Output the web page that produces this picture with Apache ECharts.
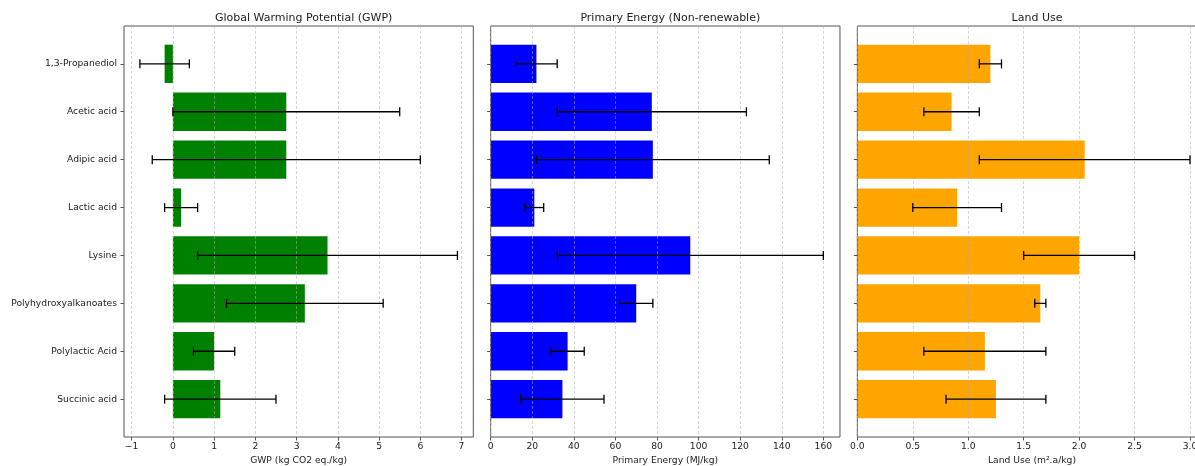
<!DOCTYPE html>
<html>
<head>
<meta charset="utf-8">
<script src="https://cdn.jsdelivr.net/npm/echarts@6/dist/echarts.min.js"></script>
<style>
  html, body { margin: 0; padding: 0; background: #fff; overflow: hidden; }
  /* the drawing is wider than the window; the third panel runs past the right edge */
  #chart { width: 1220px; height: 466px; }
</style>
</head>
<body>
<div id="chart"></div>
<script>
// Bio-based chemicals: impact indicators with uncertainty ranges
const categories = ['1,3-Propanediol', 'Acetic acid', 'Adipic acid', 'Lactic acid',
                    'Lysine', 'Polyhydroxyalkanoates', 'Polylactic Acid', 'Succinic acid'];

// Global warming potential (kg CO2 eq./kg) and its spread
const gwp    = [-0.2, 2.75, 2.75, 0.2, 3.75, 3.2, 1.0, 1.15];
const gwpErr = [0.6, 2.75, 3.25, 0.4, 3.15, 1.9, 0.5, 1.35];

// Non-renewable primary energy (MJ/kg) and its spread
const energy    = [22, 77.5, 78, 21, 96, 70, 37, 34.5];
const energyErr = [10, 45.5, 56, 4.5, 64, 8, 8, 20];

// Land use (m².a/kg) and its spread
const land    = [1.2, 0.85, 2.05, 0.9, 2.0, 1.65, 1.15, 1.25];
const landErr = [0.1, 0.25, 0.95, 0.4, 0.5, 0.05, 0.55, 0.45];

// Tick values and their labels for each x axis
const gwpTicks = [-1, 0, 1, 2, 3, 4, 5, 6, 7];
const gwpTickLabels = ['\u22121', '0', '1', '2', '3', '4', '5', '6', '7'];
const energyTicks = [0, 20, 40, 60, 80, 100, 120, 140, 160];
const energyTickLabels = ['0', '20', '40', '60', '80', '100', '120', '140', '160'];
const landTicks = [0, 0.5, 1.0, 1.5, 2.0, 2.5, 3.0];
const landTickLabels = ['0.0', '0.5', '1.0', '1.5', '2.0', '2.5', '3.0'];

const panels = [
  { title: 'Global Warming Potential (GWP)', axisName: 'GWP (kg CO2 eq./kg)',
    values: gwp, errors: gwpErr, ticks: gwpTicks, tickLabels: gwpTickLabels, color: '#008000', showNames: true },
  { title: 'Primary Energy (Non-renewable)', axisName: 'Primary Energy (MJ/kg)',
    values: energy, errors: energyErr, ticks: energyTicks, tickLabels: energyTickLabels, color: '#0000ff', showNames: false },
  { title: 'Land Use', axisName: 'Land Use (m\u00b2.a/kg)',
    values: land, errors: landErr, ticks: landTicks, tickLabels: landTickLabels, color: '#ffa500', showNames: false }
];

const FONT = 'DejaVu Sans';
const TEXT = '#222';
const SPINE = '#555';

// Layout of the three panels
const PANEL_LEFT = 124, PANEL_STEP = 366.67, PANEL_W = 349.3;
const PLOT_TOP = 26, PLOT_H = 411;
// Category bands occupy 8 of the 8.58 units spanned vertically (bars 0.8 high + 5% margin)
const UNIT = PLOT_H / 8.58;
const BAND_TOP = PLOT_TOP + 0.29 * UNIT;
const BAND_H = 8 * UNIT;

// Axis range: data extent including error bars, padded by 5%, pinned at 0 when it starts there
function axisRange(values, errors) {
  let lo = 0, hi = 0;
  values.forEach((v, i) => {
    lo = Math.min(lo, v, v - errors[i]);
    hi = Math.max(hi, v, v + errors[i]);
  });
  const pad = 0.05 * (hi - lo);
  return [lo === 0 ? 0 : lo - pad, hi + pad];
}

const grids = [], xAxes = [], yAxes = [], series = [], titles = [];

panels.forEach((p, k) => {
  const left = PANEL_LEFT + k * PANEL_STEP;
  const [xmin, xmax] = axisRange(p.values, p.errors);
  const gFrame = 2 * k, gBars = 2 * k + 1;

  titles.push({
    text: p.title,
    left: left + PANEL_W / 2,
    top: 8,
    textAlign: 'center',
    textStyle: { fontFamily: FONT, fontSize: 11, fontWeight: 'normal', color: TEXT }
  });

  // Frame grid: spines, x ticks, dashed grid lines, axis name
  grids.push({ left: left, width: PANEL_W, top: PLOT_TOP, height: PLOT_H,
               outerBoundsMode: 'none', containLabel: false,
               show: true, borderColor: SPINE, borderWidth: 1, z: 3 });
  // Bar grid: category bands
  grids.push({ left: left, width: PANEL_W, top: BAND_TOP, height: BAND_H,
               outerBoundsMode: 'none', containLabel: false });

  xAxes.push({
    type: 'value', gridIndex: gFrame, min: xmin, max: xmax, z: 3,
    name: p.axisName, nameLocation: 'middle', nameGap: 18,
    nameTextStyle: { fontFamily: FONT, fontSize: 9.2, color: TEXT },
    axisLine: { show: false, onZero: false },
    axisTick: { show: true, inside: false, length: 3.5, customValues: p.ticks,
                lineStyle: { color: SPINE, width: 1 } },
    axisLabel: { show: true, customValues: p.ticks, margin: 5.5,
                 fontFamily: FONT, fontSize: 9.2, color: TEXT,
                 formatter: v => { const i = p.ticks.indexOf(v); return i >= 0 ? p.tickLabels[i] : ''; } },
    splitLine: { show: true, lineStyle: { color: 'rgba(176,176,176,0.65)', width: 0.8, type: [3, 2] } }
  });
  xAxes.push({ type: 'value', gridIndex: gBars, min: xmin, max: xmax, show: false });

  yAxes.push({ type: 'value', gridIndex: gFrame, show: false, min: 0, max: 1 });
  yAxes.push({
    type: 'category', gridIndex: gBars, data: categories, inverse: true,
    axisLine: { show: false, onZero: false },
    axisTick: { show: true, length: 3.5, alignWithLabel: true, lineStyle: { color: SPINE, width: 1 } },
    axisLabel: { show: p.showNames, margin: 7, fontFamily: FONT, fontSize: 9.2, color: TEXT },
    splitLine: { show: false }
  });

  series.push({
    type: 'bar', xAxisIndex: gBars, yAxisIndex: gBars,
    data: p.values, barCategoryGap: '20%', z: 2,
    itemStyle: { color: p.color },
    silent: true
  });

  series.push({
    type: 'custom', xAxisIndex: gBars, yAxisIndex: gBars, z: 5, silent: true,
    data: p.values.map((v, i) => [v - p.errors[i], v + p.errors[i], i]),
    encode: { x: [0, 1], y: 2 },
    renderItem: (params, api) => {
      const a = api.coord([api.value(0), api.value(2)]);
      const b = api.coord([api.value(1), api.value(2)]);
      const cap = 4.5;
      const style = { stroke: '#000', lineWidth: 1.3 };
      return {
        type: 'group',
        children: [
          { type: 'line', shape: { x1: a[0], y1: a[1], x2: b[0], y2: b[1] }, style },
          { type: 'line', shape: { x1: a[0], y1: a[1] - cap, x2: a[0], y2: a[1] + cap }, style },
          { type: 'line', shape: { x1: b[0], y1: b[1] - cap, x2: b[0], y2: b[1] + cap }, style }
        ]
      };
    }
  });
});

const chart = echarts.init(document.getElementById('chart'), null, { renderer: 'canvas' });
chart.setOption({
  backgroundColor: '#fff',
  animation: false,
  title: titles,
  grid: grids,
  xAxis: xAxes,
  yAxis: yAxes,
  series: series
});
</script>
</body>
</html>
